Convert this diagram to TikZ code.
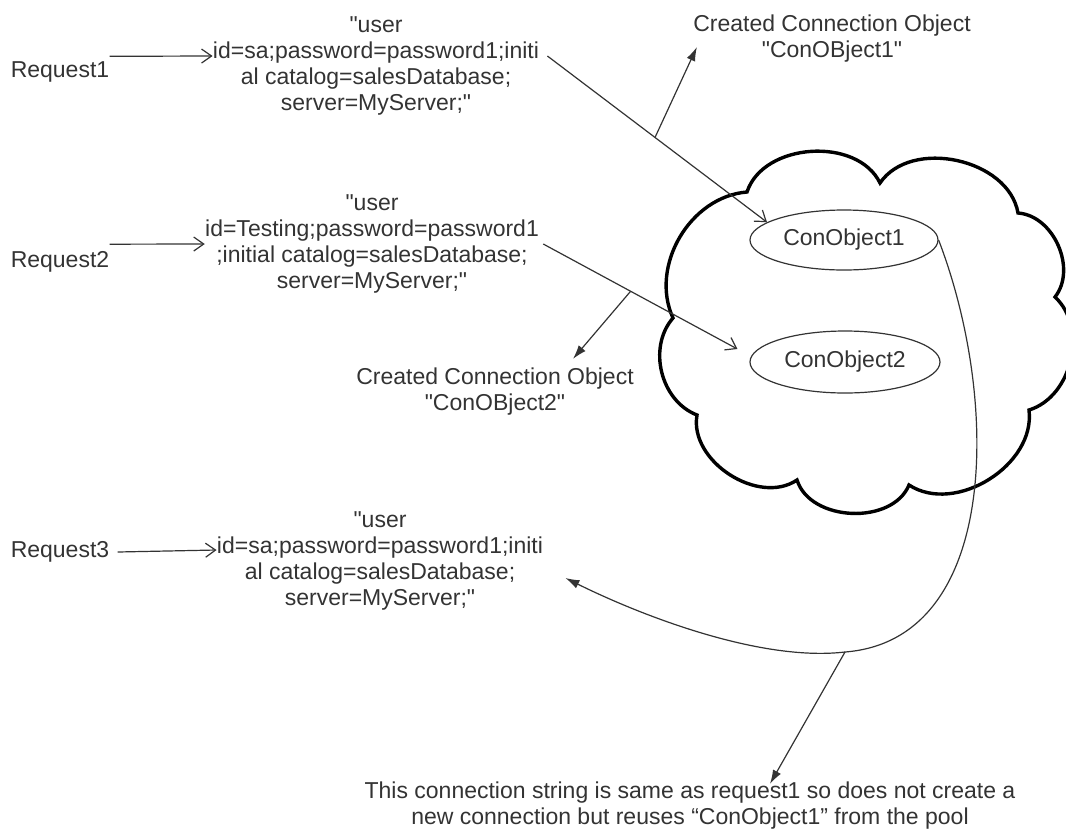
\documentclass[tikz,border=0pt]{standalone}
\usepackage{fontspec}
\setmainfont{Liberation Sans}[Ligatures=TeXOff]
\usepackage{tikz}
\usetikzlibrary{arrows.meta,shapes.geometric,positioning}
\newcommand{\PoolFont}{\fontsize{11.5pt}{13pt}\selectfont}
\colorlet{PoolTextColor}{black!80}
\colorlet{PoolLineColor}{black!80}
\tikzset{
  reqlabel/.style={inner sep=0, text=PoolTextColor, font=\PoolFont},
  connstring/.style={align=center, inner sep=0, text=PoolTextColor, font=\PoolFont},
  poolobject/.style={
    draw=PoolLineColor, shape=ellipse, line width=0.6pt,
    minimum width=94pt, minimum height=30pt, inner sep=0,
    text=PoolTextColor, font=\PoolFont
  },
  open arrow/.style={
    draw=PoolLineColor, line width=0.6pt,
    -{Straight Barb[length=5pt,width=7pt]}
  },
  solid arrow/.style={
    draw=PoolLineColor, line width=0.6pt,
    -{Latex[length=7pt,width=4.5pt]}
  },
  cloud line/.style={draw=black, line width=1.7pt, line join=miter}
}
\begin{document}
\begin{tikzpicture}[x=0.5pt, y=-0.5pt]
  \useasboundingbox (0,0) rectangle (1066,836);
  % the pool
  \draw[cloud line] (747,192) to[bend left=68] (880,183) to[bend left=68] (1018,213)
    to[bend left=62] (1055,297) to[bend left=60] (1029,410) to[bend left=65] (909,485)
    to[bend left=70] (797,480) to[bend left=67] (697,415) to[bend left=55] (673,318)
    to[bend left=55] (747,192) -- cycle;
  \node[poolobject] (obj1) at (844,240) {ConObject1};
  \node[poolobject, minimum width=95pt, minimum height=31pt] (obj2) at (845,362) {ConObject2};
  % requests and their strings
  \node[reqlabel] (req1) at (60,72) {Request1};
  \node[connstring] (str1) at (376,66) {"user\\id=sa;password=password1;initi\\al catalog=salesDatabase;\\server=MyServer;"};
  \node[reqlabel] (req2) at (60,262) {Request2};
  \node[connstring] (str2) at (372,244) {"user\\id=Testing;password=password1\\;initial catalog=salesDatabase;\\server=MyServer;"};
  \node[reqlabel] (req3) at (60,552) {Request3};
  \node[connstring] (str3) at (380,561) {"user\\id=sa;password=password1;initi\\al catalog=salesDatabase;\\server=MyServer;"};
  \node[connstring] (made1) at (832,39) {Created Connection Object\\"ConOBject1"};
  \node[connstring] (made2) at (495,392) {Created Connection Object\\"ConOBject2"};
  \node[connstring] (note) at (690,806) {This connection string is same as request1 so does not create a\\new connection but reuses “ConObject1” from the pool};
  \coordinate (reuse) at ([xshift=11pt,yshift=-8.5pt]str3.east);

  \draw[open arrow] ([yshift=2.5pt]req1.north east) -- ([yshift=5pt]str1.west);
  \draw[open arrow] ([yshift=3.5pt]req2.north east) -- (str2.west);
  \draw[open arrow] ([xshift=4pt]req3.east) -- ([yshift=5.5pt]str3.west);

  \draw[open arrow] ([xshift=4pt,yshift=5pt]str1.east) -- coordinate[pos=0.49] (hitA) (obj1.167);
  \draw[solid arrow] (hitA) -- ([xshift=2pt,yshift=-4pt]made1.west);
  \draw[open arrow] ([xshift=2pt]str2.east) -- coordinate[pos=0.45] (hitB) ([xshift=-6pt,yshift=6.5pt]obj2.west);
  \draw[solid arrow] (hitB) -- ([xshift=39pt,yshift=4.5pt]made2.north);

  \draw[solid arrow] (obj1.east) .. controls (1000,400) and (1000,640) .. (845,652) coordinate (poolhit)
    .. controls (760,662) and (640,615) .. (reuse);
  \draw[solid arrow] (poolhit) -- ([xshift=40pt,yshift=-1pt]note.north);
\end{tikzpicture}
\end{document}
